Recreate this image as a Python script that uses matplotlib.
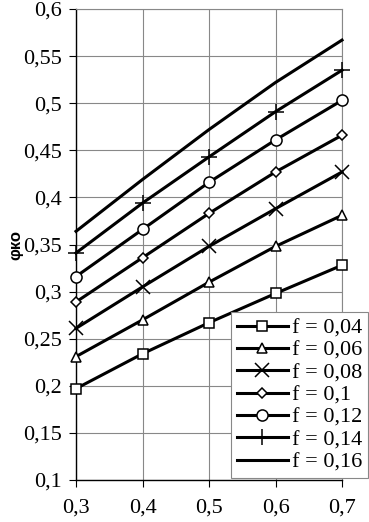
import matplotlib
matplotlib.use("Agg")
import matplotlib.pyplot as plt
from matplotlib.ticker import FuncFormatter, MultipleLocator

# Data
x = [0.3, 0.4, 0.5, 0.6, 0.7]
f_labels = ["f = 0,04", "f = 0,06", "f = 0,08", "f = 0,1", "f = 0,12", "f = 0,14", "f = 0,16"]
f004 = [0.197, 0.234, 0.267, 0.298, 0.328]
f006 = [0.231, 0.270, 0.310, 0.348, 0.381]
f008 = [0.261, 0.305, 0.348, 0.388, 0.427]
f010 = [0.289, 0.336, 0.383, 0.427, 0.466]
f012 = [0.316, 0.366, 0.416, 0.461, 0.503]
f014 = [0.341, 0.394, 0.443, 0.491, 0.535]
f016 = [0.364, 0.419, 0.472, 0.522, 0.567]
series = [f004, f006, f008, f010, f012, f014, f016]
markers = ["s", "^", "x", "D", "o", "+", None]
msizes = [7.5, 7.5, 10, 5.5, 8, 12, 0]

plt.rcParams['font.family'] = ['Liberation Serif', 'DejaVu Serif']

fig = plt.figure(figsize=(3.69, 5.22), dpi=100)
ax = fig.add_axes([76 / 369, 42 / 522, 266 / 369, 471 / 522])

for ys, lab, m, ms in zip(series, f_labels, markers, msizes):
    ax.plot(x, ys, color="black", lw=2.2, marker=m, markersize=ms,
            markerfacecolor="white", markeredgecolor="black", markeredgewidth=1.1,
            label=lab, clip_on=False, zorder=3)

ax.set_xlim(0.3, 0.7)
ax.set_ylim(0.1, 0.6)
ax.xaxis.set_major_locator(MultipleLocator(0.1))
ax.yaxis.set_major_locator(MultipleLocator(0.05))
fmt = FuncFormatter(lambda v, p: ("%g" % round(v, 3)).replace(".", ","))
ax.xaxis.set_major_formatter(fmt)
ax.yaxis.set_major_formatter(fmt)
ax.tick_params(labelsize=16, direction="out", length=5, width=0.8, colors="black")
ax.tick_params(axis="y", pad=5)
ax.tick_params(axis="x", pad=8)
ax.grid(True, color="#888888", lw=0.8)
ax.set_axisbelow(True)
for s in ["top", "right"]:
    ax.spines[s].set_color("#888888")
    ax.spines[s].set_linewidth(0.8)
for s in ["left", "bottom"]:
    ax.spines[s].set_color("black")
    ax.spines[s].set_linewidth(1.0)

ax.set_ylabel("φко", fontsize=12, fontweight="bold", family=["Liberation Sans", "DejaVu Sans"], labelpad=0)

leg = fig.legend(loc="lower right", bbox_to_anchor=(368 / 369, 44 / 522), fontsize=16,
                 frameon=True, fancybox=False, edgecolor="#888888", framealpha=1,
                 handlelength=2.3, handletextpad=0.2, labelspacing=0.08,
                 borderpad=0.25, borderaxespad=0)
leg.get_frame().set_linewidth(0.8)

fig.savefig("out.png", dpi=100)
